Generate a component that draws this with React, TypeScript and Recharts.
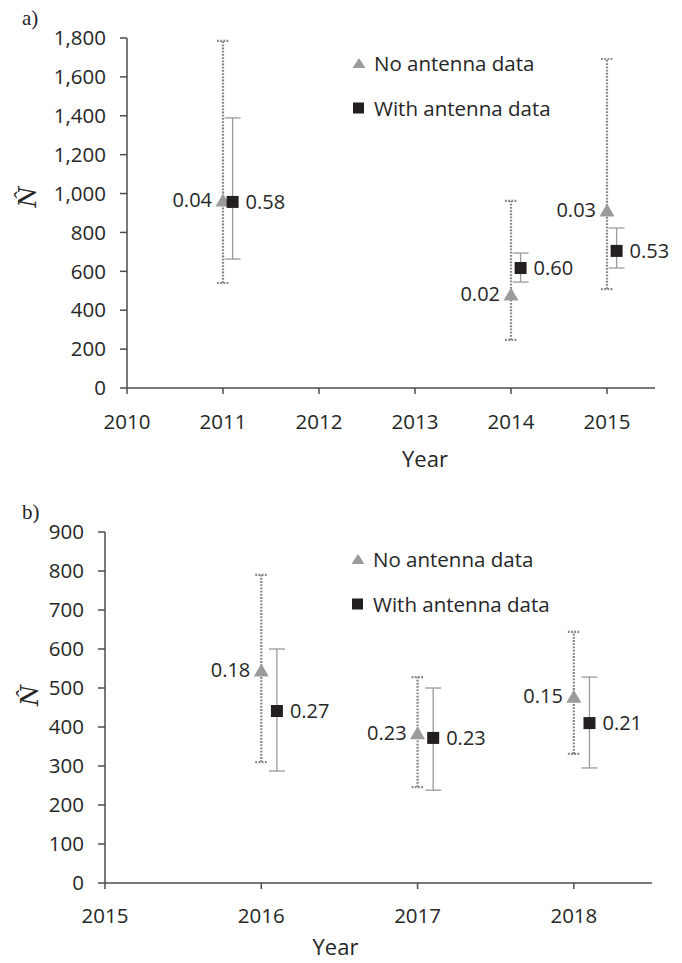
import React from 'react';
import { ScatterChart, Scatter, XAxis, YAxis, ErrorBar } from 'recharts';

// panel a)
const TOP_YEARS = [2011, 2014, 2015];
const TOP_X_TICKS = [2010, 2011, 2012, 2013, 2014, 2015];
const TOP_Y_TICKS = [0, 200, 400, 600, 800, 1000, 1200, 1400, 1600, 1800];
const TOP_NO_ANT = [967, 483, 915];
const TOP_NO_ANT_LOW = [540, 247, 509];
const TOP_NO_ANT_HIGH = [1785, 962, 1692];
const TOP_NO_ANT_CV = ['0.04', '0.02', '0.03'];
const TOP_WITH_ANT = [957, 617, 705];
const TOP_WITH_ANT_LOW = [663, 545, 617];
const TOP_WITH_ANT_HIGH = [1389, 694, 823];
const TOP_WITH_ANT_CV = ['0.58', '0.60', '0.53'];

// panel b)
const BOT_YEARS = [2016, 2017, 2018];
const BOT_X_TICKS = [2015, 2016, 2017, 2018];
const BOT_Y_TICKS = [0, 100, 200, 300, 400, 500, 600, 700, 800, 900];
const BOT_NO_ANT = [546, 385, 479];
const BOT_NO_ANT_LOW = [310, 246, 331];
const BOT_NO_ANT_HIGH = [790, 528, 644];
const BOT_NO_ANT_CV = ['0.18', '0.23', '0.15'];
const BOT_WITH_ANT = [441, 372, 410];
const BOT_WITH_ANT_LOW = [287, 238, 295];
const BOT_WITH_ANT_HIGH = [600, 500, 528];
const BOT_WITH_ANT_CV = ['0.27', '0.23', '0.21'];

// squares are nudged right of the year so the two series don't overlap
const SQUARE_SHIFT = 0.1;

const FONT = '"Open Sans", sans-serif';
const TEXT = '#262626';
const AXIS = '#4d4d4d';
const TRI = '#9b9b9b';
const SQ = '#231f20';

function build(years: number[], vals: number[], lo: number[], hi: number[], cv: string[], shift = 0) {
  return years.map((yr, i) => ({
    x: yr + shift,
    y: vals[i],
    err: [vals[i] - lo[i], hi[i] - vals[i]],
    cv: cv[i],
  }));
}

const TriangleShape = (props: any) => {
  const { cx, cy, payload } = props;
  const w = 15, h = 13;
  return (
    <g>
      <polygon points={`${cx},${cy - h / 2} ${cx + w / 2},${cy + h / 2} ${cx - w / 2},${cy + h / 2}`} fill={TRI} />
      <text x={cx - 11} y={cy} dy="0.35em" textAnchor="end" fontSize={20} fontFamily={FONT} fill={TEXT}>{payload.cv}</text>
    </g>
  );
};

const SquareShape = (props: any) => {
  const { cx, cy, payload } = props;
  const s = 12;
  return (
    <g>
      <rect x={cx - s / 2} y={cy - s / 2} width={s} height={s} fill={SQ} />
      <text x={cx + 13} y={cy} dy="0.35em" textAnchor="start" fontSize={20} fontFamily={FONT} fill={TEXT}>{payload.cv}</text>
    </g>
  );
};

function Legend({ left, top }: { left: number; top: number }) {
  const row = { display: 'flex', alignItems: 'center', height: 45 };
  return (
    <div style={{ position: 'absolute', left, top, fontFamily: FONT, fontSize: 20.5, color: TEXT }}>
      <div style={row}>
        <svg width={14} height={12} style={{ marginRight: 8 }}><polygon points="7,1 13.5,11 0.5,11" fill={TRI} /></svg>
        No antenna data
      </div>
      <div style={row}>
        <svg width={14} height={12} style={{ marginRight: 8 }}><rect x={1} y={0.5} width={11} height={11} fill={SQ} /></svg>
        With antenna data
      </div>
    </div>
  );
}

function Panel(props: any) {
  const { width, height, margin, yAxisWidth, xAxisHeight, xDomain, xTicks, yDomain, yTicks, tri, sq, xTickMargin, yearDx, yearOffset, nY } = props;
  const tick = { fontSize: 20.5, fill: TEXT, fontFamily: FONT };
  return (
    <ScatterChart width={width} height={height} margin={margin}>
      <XAxis
        type="number" dataKey="x" domain={xDomain} ticks={xTicks} interval={0}
        axisLine={{ stroke: AXIS, strokeWidth: 1.5 }} tickLine={{ stroke: AXIS, strokeWidth: 1.5 }}
        tickSize={6} tickMargin={xTickMargin} height={xAxisHeight} tick={tick}
        label={(p: any) => {
          const vb = p.viewBox;
          return <text x={vb.x + vb.width / 2 + yearDx} y={vb.y + vb.height - yearOffset} textAnchor="middle" fontSize={22} fontFamily={FONT} fill={TEXT}>Year</text>;
        }}
      />
      <YAxis
        type="number" dataKey="y" domain={yDomain} ticks={yTicks} interval={0}
        axisLine={{ stroke: AXIS, strokeWidth: 1.5 }} tickLine={{ stroke: AXIS, strokeWidth: 1.5 }}
        tickSize={7} tickMargin={14} width={yAxisWidth} tick={tick}
        tickFormatter={(v: number) => v.toLocaleString('en-US')}
        label={(p: any) => {
          const vb = p.viewBox;
          const cx = nY.x, cy = vb.y + vb.height / 2 + nY.dy;
          return <text x={cx} y={cy} transform={`rotate(-90 ${cx} ${cy})`} textAnchor="middle" dy="0.35em" fontSize={24} fontStyle="italic" fontFamily='"DejaVu Serif", serif' fill={TEXT}>{'N\u0302'}</text>;
        }}
      />
      <Scatter name="No antenna data" data={tri} shape={TriangleShape} isAnimationActive={false}>
        <ErrorBar dataKey="err" direction="y" width={6} stroke="#858585" strokeWidth={2.2} strokeDasharray="1.8 1.4" />
      </Scatter>
      <Scatter name="With antenna data" data={sq} shape={SquareShape} isAnimationActive={false}>
        <ErrorBar dataKey="err" direction="y" width={8} stroke="#9a9a9a" strokeWidth={1.3} />
      </Scatter>
    </ScatterChart>
  );
}

export default function App() {
  const topTri = build(TOP_YEARS, TOP_NO_ANT, TOP_NO_ANT_LOW, TOP_NO_ANT_HIGH, TOP_NO_ANT_CV);
  const topSq = build(TOP_YEARS, TOP_WITH_ANT, TOP_WITH_ANT_LOW, TOP_WITH_ANT_HIGH, TOP_WITH_ANT_CV, SQUARE_SHIFT);
  const botTri = build(BOT_YEARS, BOT_NO_ANT, BOT_NO_ANT_LOW, BOT_NO_ANT_HIGH, BOT_NO_ANT_CV);
  const botSq = build(BOT_YEARS, BOT_WITH_ANT, BOT_WITH_ANT_LOW, BOT_WITH_ANT_HIGH, BOT_WITH_ANT_CV, SQUARE_SHIFT);

  return (
    <div style={{ position: 'absolute', left: 0, top: 0, width: 682, height: 963, background: '#fff', fontFamily: FONT }}>
      <div style={{ position: 'absolute', left: 0, top: 0 }}>
        <Panel
          width={682} height={480} margin={{ top: 38, right: 27, left: 0, bottom: 0 }}
          yAxisWidth={127} xAxisHeight={92} xDomain={[2010, 2015.5]} xTicks={TOP_X_TICKS}
          yDomain={[0, 1800]} yTicks={TOP_Y_TICKS} tri={topTri} sq={topSq}
          xTickMargin={20} yearDx={34} yearOffset={13} nY={{ x: 28, dy: -16 }}
        />
      </div>
      <div style={{ position: 'absolute', left: 0, top: 480 }}>
        <Panel
          width={682} height={483} margin={{ top: 52, right: 30, left: 0, bottom: 0 }}
          yAxisWidth={105} xAxisHeight={80} xDomain={[2015, 2018.5]} xTicks={BOT_X_TICKS}
          yDomain={[0, 900]} yTicks={BOT_Y_TICKS} tri={botTri} sq={botSq}
          xTickMargin={19} yearDx={-43} yearOffset={8} nY={{ x: 30, dy: -12 }}
        />
      </div>
      <div style={{ position: 'absolute', left: 22, top: 6, fontFamily: '"Liberation Serif", serif', fontSize: 21, color: TEXT }}>a)</div>
      <div style={{ position: 'absolute', left: 22, top: 500, fontFamily: '"Liberation Serif", serif', fontSize: 21, color: TEXT }}>b)</div>
      <Legend left={352} top={40} />
      <Legend left={351} top={536} />
    </div>
  );
}
